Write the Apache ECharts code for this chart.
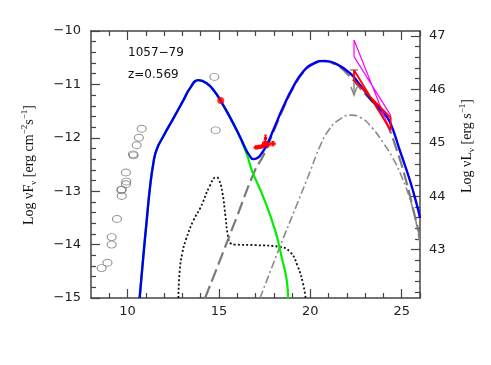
<!DOCTYPE html>
<html><head><meta charset="utf-8">
<script src="https://cdn.jsdelivr.net/npm/echarts@6/dist/echarts.min.js"></script>
<style>html,body{margin:0;padding:0;background:#fff}#c{width:491px;height:365px}</style>
</head><body><div id="c"></div>
<script>
// ---- data ----
const xTickLabels = [10, 15, 20, 25];
const yTickLabels = [-15, -14, -13, -12, -11, -10];
const rightTickLabels = [43, 44, 45, 46, 47];
const rightOffset = 57.093; // log nuL = log nuF + offset

const archivalX = [8.58, 8.90, 9.13, 9.13, 9.42, 9.66, 9.68, 9.68, 9.91, 9.93, 9.91, 10.30, 10.33, 10.50, 10.62, 10.77, 14.75, 14.82];
const archivalY = [-14.44, -14.34, -13.86, -14.0, -13.52, -12.98, -13.09, -12.97, -12.87, -12.82, -12.65, -12.31, -12.33, -12.14, -12.0, -11.83, -10.86, -11.86];

const optX = [15.1];
const optY = [-11.30];

const xrayX = [17.05, 17.2, 17.38, 17.5, 17.55, 17.68, 17.95];
const xrayY = [-12.18, -12.17, -12.16, -12.10, -12.01, -12.13, -12.11];
const xrayDX = [0.12, 0.12, 0.12, 0.12, 0.06, 0.12, 0.12];
const xrayDY = [0.03, 0.03, 0.03, 0.04, 0.06, 0.04, 0.04];

const totalX = [10.66, 10.86, 11.05, 11.23, 11.41, 11.59, 11.96, 12.50, 13.05, 13.42, 13.87, 14.33, 14.78, 15.08, 15.55, 16.15, 16.45, 16.65, 16.88, 17.1, 17.3, 17.61, 17.97, 18.52, 19.07, 19.61, 20.16, 20.8, 21.44, 22.17, 22.72, 23.44, 24.0, 24.36, 24.9, 25.45, 25.9, 26.0];
const totalY = [-15.0, -14.23, -13.54, -12.92, -12.48, -12.22, -11.97, -11.64, -11.30, -11.07, -10.92, -10.98, -11.14, -11.30, -11.58, -11.98, -12.2, -12.32, -12.40, -12.38, -12.31, -12.14, -11.86, -11.42, -11.04, -10.76, -10.61, -10.56, -10.62, -10.79, -11.01, -11.33, -11.53, -11.71, -12.24, -12.80, -13.35, -13.50];

const syncX = [10.66, 10.86, 11.05, 11.23, 11.41, 11.59, 11.96, 12.50, 13.05, 13.42, 13.87, 14.33, 14.78, 15.08, 15.55, 16.15, 16.35, 16.55, 16.8, 17.43, 18.07, 18.43, 18.71, 18.78];
const syncY = [-15.0, -14.23, -13.54, -12.92, -12.48, -12.22, -11.97, -11.64, -11.30, -11.07, -10.92, -10.98, -11.14, -11.30, -11.58, -11.99, -12.16, -12.33, -12.61, -13.11, -13.73, -14.23, -14.67, -15.0];

const diskX = [12.78, 12.85, 13.0, 13.2, 13.6, 14.0, 14.5, 14.85, 15.0, 15.2, 15.35, 15.5, 15.65, 15.9, 17.0, 18.3, 18.9, 19.3, 19.6, 19.74];
const diskY = [-15.0, -14.5, -14.15, -13.9, -13.55, -13.3, -12.9, -12.74, -12.78, -13.05, -13.45, -13.85, -13.98, -14.0, -14.01, -14.04, -14.14, -14.4, -14.73, -15.0];

const ecX = [14.24, 15.06, 16.0, 16.97, 17.43, 17.97, 18.52, 19.07, 19.61, 20.16, 20.8, 21.44, 21.99, 22.72, 23.81, 24.26, 24.7, 25.18, 25.82, 26.0];
const ecY = [-15.0, -14.29, -13.46, -12.61, -12.33, -11.90, -11.45, -11.06, -10.78, -10.62, -10.57, -10.64, -10.79, -11.07, -11.51, -11.79, -12.2, -12.73, -13.61, -13.85];

const sscX = [17.25, 18.3, 19.3, 20.0, 20.5, 21.0, 21.5, 22.2, 22.8, 23.4, 24.0, 24.5, 25.0, 25.5, 25.8, 26.0];
const sscY = [-15.0, -14.07, -13.22, -12.62, -12.18, -11.86, -11.68, -11.575, -11.63, -11.82, -12.1, -12.37, -12.73, -13.2, -13.6, -14.0];

const redBowX = [22.39, 24.39, 24.39, 22.39, 22.39];
const redBowY = [-10.73, -11.86, -11.62, -10.92, -10.73];
const magBowX = [22.39, 24.39, 24.39, 22.39, 22.39];
const magBowY = [-10.17, -11.89, -11.575, -10.48, -10.17];

const ulX = [22.39];
const ulY = [-10.73];
const ulLen = [0.47];

// ---- build ----
const zip = (a, b) => a.map((v, i) => [v, b[i]]);
const chart = echarts.init(document.getElementById('c'), null, {renderer: 'canvas'});
const axisCol = '#444';
const lblFont = {color: '#222', fontSize: 13, fontFamily: 'DejaVu Sans'};
const minorX = [];
for (let v = 9; v <= 26; v++) if (v % 5 !== 0) minorX.push(v);
const minorR = [];
for (let k = 211; k <= 235; k++) { const v = k / 5; if (k % 5 !== 0) minorR.push(+v.toFixed(1)); }

function xAx(pos, major, showLine, showLbl) {
  return {
    type: 'value', position: pos, min: 8, max: 26,
    axisLine: {show: showLine, onZero: false, lineStyle: {color: axisCol, width: 1.5}},
    axisTick: {show: true, inside: true, length: major ? 9 : 5, lineStyle: {color: axisCol, width: 1.2},
      customValues: major ? xTickLabels : minorX},
    axisLabel: showLbl ? Object.assign({customValues: xTickLabels, margin: 7}, lblFont) : {show: false},
    splitLine: {show: false}
  };
}
function rAx(major) {
  return {
    type: 'value', position: 'right', min: -15 + rightOffset, max: -10 + rightOffset,
    axisLine: {show: major, onZero: false, lineStyle: {color: axisCol, width: 1.5}},
    axisTick: {show: true, inside: true, length: major ? 9 : 5, lineStyle: {color: axisCol, width: 1.2},
      customValues: major ? rightTickLabels : minorR},
    axisLabel: major ? Object.assign({customValues: rightTickLabels, margin: 9}, lblFont) : {show: false},
    splitLine: {show: false}
  };
}

const lineS = (name, xs, ys, color, width, type, z) => ({
  name, type: 'line', data: zip(xs, ys), showSymbol: false, symbol: 'none',
  smooth: 0.5, z: z || 2,
  lineStyle: {color, width, type: type || 'solid', cap: 'butt', join: 'round'}, silent: true
});

chart.setOption({
  animation: false,
  grid: {left: 91, right: 71, top: 31, bottom: 67},
  xAxis: [xAx('bottom', true, true, true), xAx('bottom', false, false, false), xAx('top', true, true, false), xAx('top', false, false, false)],
  yAxis: [{
    type: 'value', position: 'left', min: -15, max: -10, interval: 1,
    axisLine: {show: true, onZero: false, lineStyle: {color: axisCol, width: 1.5}},
    axisTick: {show: true, inside: true, length: 9, lineStyle: {color: axisCol, width: 1.2}},
    minorTick: {show: true, splitNumber: 5, length: 5, lineStyle: {color: axisCol, width: 1.2}},
    axisLabel: Object.assign({margin: 10, formatter: v => (v < 0 ? '\u2212' : '') + Math.abs(v)}, lblFont),
    splitLine: {show: false}
  }, rAx(true), rAx(false)],
  graphic: [
    {type: 'text', left: 128, top: 47, style: {text: '1057\u221279', fill: '#111', font: '12px "DejaVu Sans"'}},
    {type: 'text', left: 128, top: 69, style: {text: 'z=0.569', fill: '#111', font: '12px "DejaVu Sans"'}},
    {type: 'text', x: 29, y: 165, rotation: Math.PI / 2,
      style: {text: 'Log \u03bdF{s|\u03bd} [erg cm{p|\u22122}s{p|\u22121}]', fill: '#111', font: '14px "Liberation Serif"',
        align: 'center', verticalAlign: 'middle', lineHeight: 18,
        rich: {s: {fontSize: 9, fontFamily: 'Liberation Serif', verticalAlign: 'bottom', fill: '#111', lineHeight: 12},
               p: {fontSize: 9, fontFamily: 'Liberation Serif', verticalAlign: 'top', fill: '#111', lineHeight: 12}}}},
    {type: 'text', x: 467, y: 146, rotation: Math.PI / 2,
      style: {text: 'Log \u03bdL{s|\u03bd} [erg s{p|\u22121}]', fill: '#111', font: '14px "Liberation Serif"',
        align: 'center', verticalAlign: 'middle', lineHeight: 18,
        rich: {s: {fontSize: 9, fontFamily: 'Liberation Serif', verticalAlign: 'bottom', fill: '#111', lineHeight: 12},
               p: {fontSize: 9, fontFamily: 'Liberation Serif', verticalAlign: 'top', fill: '#111', lineHeight: 12}}}}
  ],
  series: [
    lineS('disk', diskX, diskY, '#111', 1.8, [2, 2.2], 2),
    lineS('ssc', sscX, sscY, '#8a8a8a', 1.6, [8, 3, 2, 3], 2),
    lineS('ec', ecX, ecY, '#7a7a7a', 2.2, [13, 5], 3),
    lineS('sync', syncX, syncY, '#00ee00', 2.2, 'solid', 3),
    lineS('total', totalX, totalY, '#0000ee', 2.4, 'solid', 4),
    {type: 'line', data: zip(magBowX, magBowY), showSymbol: false, symbol: 'none', z: 5,
      lineStyle: {color: '#ff00ff', width: 1.2}, silent: true},
    {type: 'line', data: zip(redBowX, redBowY), showSymbol: false, symbol: 'none', z: 6,
      lineStyle: {color: '#ff0000', width: 1.8}, silent: true},
    {type: 'scatter', data: zip(archivalX, archivalY), symbol: 'circle', symbolSize: [9, 7], z: 5,
      itemStyle: {color: 'rgba(0,0,0,0)', borderColor: '#777', borderWidth: 1}, silent: true},
    {type: 'scatter', data: zip(optX, optY), symbol: 'circle', symbolSize: 7, z: 6,
      itemStyle: {color: '#ff0000'}, silent: true},
    {type: 'custom', z: 7, silent: true,
      data: xrayX.map((v, i) => [v, xrayY[i], xrayDX[i], xrayDY[i]]),
      renderItem: (params, api) => {
        const x = api.value(0), y = api.value(1), dx = api.value(2), dy = api.value(3);
        const l = api.coord([x - dx, y]), r = api.coord([x + dx, y]);
        const t = api.coord([x, y + dy]), b = api.coord([x, y - dy]), c = api.coord([x, y]);
        const st = {stroke: '#ff0000', lineWidth: 1.1};
        return {type: 'group', children: [
          {type: 'line', shape: {x1: l[0], y1: l[1], x2: r[0], y2: r[1]}, style: st},
          {type: 'line', shape: {x1: l[0], y1: l[1] - 1.5, x2: l[0], y2: l[1] + 1.5}, style: st},
          {type: 'line', shape: {x1: r[0], y1: r[1] - 1.5, x2: r[0], y2: r[1] + 1.5}, style: st},
          {type: 'line', shape: {x1: t[0], y1: t[1], x2: b[0], y2: b[1]}, style: st},
          {type: 'line', shape: {x1: t[0] - 1.5, y1: t[1], x2: t[0] + 1.5, y2: t[1]}, style: st},
          {type: 'line', shape: {x1: b[0] - 1.5, y1: b[1], x2: b[0] + 1.5, y2: b[1]}, style: st},
          {type: 'rect', shape: {x: c[0] - 1.5, y: c[1] - 1.5, width: 3, height: 3}, style: {fill: '#ff0000'}}
        ]};
      }},
    {type: 'custom', z: 6, silent: true,
      data: ulX.map((v, i) => [v, ulY[i], ulLen[i]]),
      renderItem: (params, api) => {
        const x = api.value(0), y = api.value(1), len = api.value(2);
        const top = api.coord([x, y]), tip = api.coord([x, y - len]);
        const st = {stroke: '#888', lineWidth: 1.5};
        return {type: 'group', children: [
          {type: 'line', shape: {x1: top[0] - 4, y1: top[1], x2: top[0] + 4, y2: top[1]}, style: st},
          {type: 'line', shape: {x1: top[0], y1: top[1], x2: tip[0], y2: tip[1]}, style: st},
          {type: 'polyline', shape: {points: [[tip[0] - 3, tip[1] - 8], [tip[0], tip[1]], [tip[0] + 3, tip[1] - 8]]}, style: Object.assign({fill: null}, st)}
        ]};
      }}
  ]
});
</script></body></html>
